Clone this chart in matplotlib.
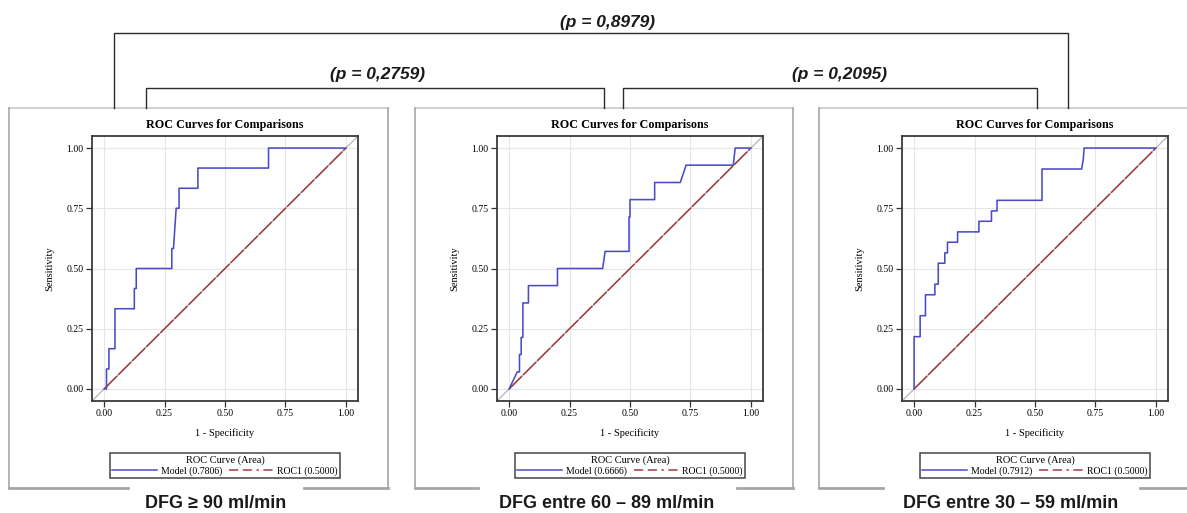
import matplotlib
matplotlib.use("Agg")
import matplotlib.pyplot as plt
from matplotlib.lines import Line2D

# ==========================================
# DATA
# ==========================================
panel_labels = ["DFG \u2265 90 ml/min", "DFG entre 60 \u2013 89 ml/min", "DFG entre 30 \u2013 59 ml/min"]
model_auc = ["0.7806", "0.6666", "0.7912"]
ref_auc = "0.5000"

fpr1 = [0.0, 0.01, 0.01, 0.02, 0.02, 0.045, 0.045, 0.125, 0.125, 0.133, 0.133, 0.28, 0.28,
        0.287, 0.298, 0.31, 0.31, 0.388, 0.388, 0.68, 0.68, 1.0]
tpr1 = [0.0, 0.0, 0.083, 0.083, 0.167, 0.167, 0.333, 0.333, 0.417, 0.417, 0.5, 0.5, 0.583,
        0.583, 0.75, 0.75, 0.833, 0.833, 0.917, 0.917, 1.0, 1.0]

fpr2 = [0.0, 0.034, 0.043, 0.043, 0.05, 0.05, 0.057, 0.057, 0.08, 0.08, 0.20, 0.20, 0.387,
        0.397, 0.496, 0.496, 0.50, 0.50, 0.602, 0.602, 0.708, 0.732, 0.927, 0.935, 1.0]
tpr2 = [0.0, 0.071, 0.071, 0.143, 0.143, 0.214, 0.214, 0.357, 0.357, 0.429, 0.429, 0.5, 0.5,
        0.571, 0.571, 0.714, 0.714, 0.786, 0.786, 0.857, 0.857, 0.929, 0.929, 1.0, 1.0]

fpr3 = [0.0, 0.0, 0.025, 0.025, 0.047, 0.047, 0.086, 0.086, 0.10, 0.10, 0.127, 0.127, 0.138,
        0.138, 0.18, 0.18, 0.268, 0.268, 0.32, 0.32, 0.343, 0.343, 0.529, 0.529, 0.693,
        0.70, 0.703, 1.0]
tpr3 = [0.0, 0.217, 0.217, 0.304, 0.304, 0.391, 0.391, 0.435, 0.435, 0.522, 0.522, 0.565,
        0.565, 0.609, 0.609, 0.652, 0.652, 0.696, 0.696, 0.739, 0.739, 0.783, 0.783, 0.913,
        0.913, 0.957, 1.0, 1.0]

curves = [(fpr1, tpr1), (fpr2, tpr2), (fpr3, tpr3)]
ticks = [0.0, 0.25, 0.5, 0.75, 1.0]

p_labels = ["(p = 0,2759)", "(p = 0,2095)", "(p = 0,8979)"]

# ==========================================
# LAYOUT (pixels)
# ==========================================
W, H = 1187, 513
DPI = 100
ax_left = [92, 497, 902]
ax_w, ax_top, ax_h = 266, 136, 265
box_x = [(9, 388), (415, 793), (819, 1200)]
box_gap = [(128, 304), (478, 737), (883, 1140)]
box_top, box_bot = 108, 488
label_x = [216, 607, 1011]

SERIF = ["Liberation Serif", "DejaVu Serif"]
SANS = ["Liberation Sans", "DejaVu Sans"]
BLUE = "#4b4bc8"
RED = "#a23a3a"

fig = plt.figure(figsize=(W / DPI, H / DPI), dpi=DPI)

# overlay axes in pixel coords for brackets and boxes
ov = fig.add_axes([0, 0, 1, 1], zorder=0)
ov.set_xlim(0, W)
ov.set_ylim(H, 0)
ov.axis("off")

box_col = "#a6a6a6"
for (x0, x1), (g0, g1), lx, lab in zip(box_x, box_gap, label_x, panel_labels):
    ov.plot([x0, x1], [box_top, box_top], color="#c8c8c8", lw=1.2)
    ov.plot([x0, x0], [box_top, box_bot], color=box_col, lw=1.2)
    ov.plot([x1, x1], [box_top, box_bot], color=box_col, lw=1.2)
    ov.plot([x0, g0], [box_bot, box_bot], color=box_col, lw=2)
    ov.plot([g1, x1], [box_bot, box_bot], color=box_col, lw=2)
    ov.text(lx, 503, lab, ha="center", va="center", fontsize=13,
            fontweight="bold", family=SANS, color="#1a1a1a")

# comparison brackets
brackets = [(146, 604, 88, 378, 75), (623, 1037, 88, 839, 75), (114, 1068, 33, 608, 22)]
for (bx0, bx1, by, tx, ty), pl in zip(brackets, p_labels):
    ov.plot([bx0, bx0, bx1, bx1], [box_top, by, by, box_top], color="#2b2b2b", lw=1)
    ov.text(tx, ty, pl, ha="center", va="center", fontsize=12.5,
            fontweight="bold", style="italic", family=SANS, color="#1a1a1a")

# ==========================================
# ROC PANELS
# ==========================================
for i, (fpr, tpr) in enumerate(curves):
    ax = fig.add_axes([ax_left[i] / W, 1 - (ax_top + ax_h) / H, ax_w / W, ax_h / H], zorder=1)
    ax.set_xlim(-0.05, 1.05)
    ax.set_ylim(-0.05, 1.05)
    ax.grid(True, color="#e6e6e6", lw=0.8)
    ax.set_axisbelow(True)

    ax.plot([0, 1], [0, 1], transform=ax.transAxes, color="#b5b5b5", lw=0.9)
    ax.plot([0, 1], [0, 1], color=RED, lw=1.1, dashes=(12, 1))
    ax.plot(fpr, tpr, color=BLUE, lw=1.15)

    ax.set_xticks(ticks)
    ax.set_yticks(ticks)
    ax.set_xticklabels([f"{t:.2f}" for t in ticks], family=SERIF, fontsize=7)
    ax.set_yticklabels([f"{t:.2f}" for t in ticks], family=SERIF, fontsize=7)
    ax.tick_params(length=4, width=0.9, color="#333333", pad=2)
    for s in ax.spines.values():
        s.set_color("#3a3a3a")
        s.set_linewidth(1.3)

    ax.set_xlabel("1 - Specificity", family=SERIF, fontsize=7.5, labelpad=7)
    ax.set_ylabel("Sensitivity", family=SERIF, fontsize=7.5, labelpad=9)
    ax.set_title("ROC Curves for Comparisons", family=SERIF, fontsize=8.7,
                 fontweight="bold", pad=6)

    handles = [Line2D([], [], color=BLUE, lw=1.1),
               Line2D([], [], color=RED, lw=1.1, dashes=(6, 3, 6, 3, 1.5, 3))]
    labels = [f"Model ({model_auc[i]})", f"ROC1 ({ref_auc})"]
    leg = ax.legend(handles, labels, title="ROC Curve (Area)", ncol=2,
                    loc="upper center", bbox_to_anchor=(0.5, -0.178),
                    prop={"family": SERIF, "size": 7}, title_fontproperties={"family": SERIF, "size": 7.5},
                    handlelength=4.6, handletextpad=0.4, columnspacing=0.7,
                    borderpad=0.2, labelspacing=0.15, fancybox=False, framealpha=1,
                    edgecolor="#444444")
    leg.get_frame().set_linewidth(1.1)

fig.savefig("out.png", dpi=DPI)
